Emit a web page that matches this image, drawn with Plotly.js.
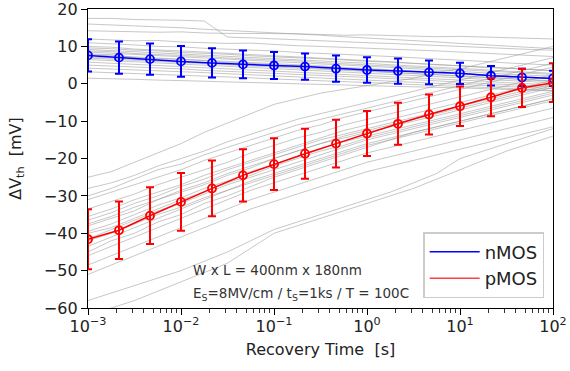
<!DOCTYPE html>
<html>
<head>
<meta charset="utf-8">
<script src="https://cdn.plot.ly/plotly-3.0.1.min.js"></script>
<style>html,body{margin:0;padding:0;background:#fff;}#chart{width:570px;height:371px;}</style>
</head>
<body>
<div id="chart"></div>
<script>
// Mean curves (third-decade sampling)
const timePts = [0.001, 0.002154, 0.004642, 0.01, 0.02154, 0.04642, 0.1, 0.2154, 0.4642, 1, 2.154, 4.642, 10, 21.54, 46.42, 100];
const nMean = [7.6, 7.0, 6.6, 6.0, 5.6, 5.2, 4.9, 4.6, 4.05, 3.7, 3.4, 3.05, 2.8, 2.15, 1.7, 1.45];
const nErr  = [4.3, 4.3, 4.2, 4.1, 3.9, 3.7, 3.6, 3.5, 3.5, 3.4, 3.4, 3.2, 2.85, 2.6, 2.3, 2.05];
const pMean = [-41.6, -39.2, -35.3, -31.6, -28.0, -24.5, -21.5, -18.7, -16.0, -13.3, -10.7, -8.2, -6.0, -3.6, -1.1, 0.3];
const pErr  = [8.0, 7.7, 7.6, 7.7, 7.45, 7.0, 6.9, 6.7, 6.4, 6.05, 5.6, 5.35, 5.3, 5.1, 5.1, 5.2];

// Individual device traces (quarter-decade sampling)
const grayTime = [0.001, 0.001778, 0.003162, 0.005623, 0.01, 0.01778, 0.03162, 0.05623, 0.1, 0.1778, 0.3162, 0.5623, 1, 1.778, 3.162, 5.623, 10, 17.78, 31.62, 56.23, 100];
const nDevices = [
  [17.5,17.5,17.2,17.2,17.0,16.8,12.5,12.3,12.0,11.8,11.5,11.2,11.0,10.8,10.5,10.3,10.0,9.8,9.5,9.2,9.0],
  [14.2,14.0,14.0,13.8,13.9,13.6,13.5,13.5,13.3,13.4,13.2,13.0,13.1,12.9,12.8,12.6,12.7,12.5,12.4,12.2,12.0],
  [12.0,11.8,11.5,11.6,11.2,11.0,10.8,10.9,10.5,10.2,10.0,9.8,9.6,9.3,9.0,8.8,8.5,8.2,7.9,7.6,7.3],
  [11.0,10.6,10.4,10.0,9.9,9.5,9.3,9.0,8.8,8.4,8.2,7.9,7.6,7.3,7.0,6.6,6.3,6.0,5.6,5.3,5.0],
  [10.0,9.8,9.3,9.1,8.8,8.5,8.1,7.9,7.5,7.2,6.9,6.6,6.2,5.9,5.5,5.2,4.8,4.5,4.1,3.8,3.5],
  [9.2,8.9,8.6,8.2,7.9,7.7,7.3,7.0,6.8,6.4,6.1,5.8,5.5,5.1,4.8,4.5,4.1,3.8,3.4,3.1,2.8],
  [8.5,8.2,7.8,7.6,7.2,6.9,6.6,6.3,6.0,5.7,5.3,5.0,4.7,4.4,4.0,3.7,3.3,3.0,2.6,2.3,2.0],
  [7.8,7.5,7.3,6.9,6.6,6.3,6.0,5.6,5.4,5.0,4.8,4.4,4.1,3.8,3.4,3.1,2.8,2.4,2.1,1.8,1.5],
  [7.2,6.9,6.5,6.3,6.0,5.6,5.4,5.0,4.7,4.4,4.1,3.8,3.5,3.1,2.8,2.5,2.1,1.8,1.5,1.1,0.8],
  [6.5,6.3,5.9,5.6,5.3,5.0,4.7,4.4,4.1,3.8,3.5,3.2,2.9,2.5,2.2,1.9,1.6,1.2,0.9,0.6,0.3],
  [5.8,5.5,5.3,4.9,4.6,4.4,4.0,3.8,3.4,3.2,2.9,2.6,2.2,2.0,1.6,1.3,1.0,0.7,0.3,0.0,-0.3],
  [5.0,4.8,4.5,4.2,4.0,3.6,3.4,3.1,2.8,2.5,2.3,1.9,1.7,1.4,1.0,0.8,0.4,0.1,-0.2,-0.5,-0.8],
  [4.2,4.0,3.7,3.5,3.2,3.0,2.7,2.4,2.2,1.9,1.6,1.4,1.1,0.8,0.5,0.2,-0.1,-0.4,-0.7,-1.0,-1.3],
  [3.2,3.0,2.8,2.5,2.3,2.1,1.8,1.6,1.3,1.1,0.8,0.6,0.3,0.1,-0.2,-0.4,-0.7,-0.9,-1.2,-1.5,-1.8],
  [1.5,1.4,1.2,1.0,0.9,0.7,0.5,0.4,0.2,0.0,-0.1,-0.3,-0.5,-0.6,-0.8,-1.0,-1.1,-1.3,-1.5,-1.7,-1.9],
  [9.6,9.4,9.0,8.8,8.4,8.2,7.9,7.5,7.3,7.0,6.7,6.4,6.0,5.8,5.4,5.1,4.8,4.4,4.2,3.8,3.5],
  [16.0,15.8,15.5,15.2,15.0,14.6,14.3,14.0,13.7,13.3,13.0,12.6,12.3,11.9,11.5,11.2,10.8,10.5,10.1,9.8,9.4],
  [8.0,7.8,7.0,6.8,6.4,6.2,5.7,5.5,5.1,4.9,4.5,4.2,3.9,3.6,3.2,2.9,2.6,2.3,1.9,1.6,1.3],
  [6.9,6.6,6.4,6.0,5.7,5.5,5.1,4.9,4.6,4.2,4.0,3.6,3.4,3.0,2.7,2.4,2.0,1.7,1.4,1.0,0.7],
  [8.8,8.6,8.1,7.9,7.5,7.3,6.9,6.7,6.3,6.1,5.7,5.4,5.1,4.8,4.4,4.1,3.8,3.4,3.1,2.8,2.5]
];
const pDevices = [
  [-25,-23.5,-21,-18.5,-16,-13,-10.5,-8,-5.5,-4,-2.5,-1.5,-0.5,0.5,1.5,3,4,5.5,7,8.5,10],
  [-28,-26.5,-24.5,-22,-20,-18,-15.5,-13.5,-11.5,-9.5,-8,-6.5,-5,-3.5,-2,-0.5,1,2.5,4,5.5,7],
  [-31,-29,-27,-25,-23,-20.5,-18.5,-16.5,-14.5,-12.5,-11,-9,-7.5,-6,-4.5,-3,-1.5,0,1.5,3,4.5],
  [-33.5,-31.5,-29.5,-27,-25,-23,-21,-18.5,-16.5,-14.5,-13,-11,-9.5,-8,-6.5,-5,-3.5,-2,-0.5,1,2.5],
  [-35.5,-33.5,-31,-29,-27,-24.5,-22.5,-20.5,-18.5,-16.5,-14.5,-12.5,-11,-9.5,-8,-6.5,-5,-3.5,-2,-0.5,1],
  [-37.5,-35.5,-33,-31,-28.5,-26.5,-24,-22,-20,-18,-16,-14,-12.5,-11,-9.5,-8,-6.5,-5,-3.5,-2,-0.5],
  [-39.5,-37.5,-35,-32.5,-30.5,-28,-26,-23.5,-21.5,-19.5,-17.5,-15.5,-14,-12.5,-11,-9.5,-8,-6.5,-5,-3.5,-2],
  [-41.5,-39,-36.5,-34,-32,-29.5,-27,-25,-23,-21,-19,-17,-15,-13.5,-12,-10.5,-9,-7.5,-6,-4.5,-3],
  [-43.5,-41,-38.5,-36,-33.5,-31,-28.5,-26.5,-24.5,-22.5,-20.5,-18.5,-16.5,-15,-13.5,-12,-10.5,-9,-7.5,-6,-4.5],
  [-46,-43.5,-41,-38.5,-36,-33.5,-31,-28.5,-26.5,-24.5,-22.5,-20.5,-18.5,-17,-15.5,-14,-12.5,-11,-9.5,-8,-6.5],
  [-48.5,-46,-43.5,-41,-38.5,-36,-33.5,-31,-29,-27,-25,-23,-21,-19.5,-18,-16.5,-15,-13.5,-12,-10.5,-9],
  [-51,-48.5,-46,-43.5,-41,-38.5,-36,-33.5,-31.5,-29.5,-27.5,-25.5,-23.5,-22,-20.5,-19,-17.5,-16,-14.5,-13,-11.5],
  [-58,-56,-54,-52,-50,-47.5,-45,-42,-39,-37,-35,-33,-31,-29,-26.5,-24,-20,-18,-16,-14,-12],
  [-62,-60,-58,-55.5,-53,-50.5,-48,-44,-40,-38,-36,-34,-32,-30,-28,-25.5,-23,-20.5,-18,-16,-14],
  [-45,-42,-40,-37,-35,-32,-30,-27.5,-25,-23,-21,-19,-17,-15,-13,-11.5,-10,-8.5,-7,-5.5,-4],
  [-38,-36,-34,-31,-29,-27,-24.5,-22.5,-20,-18,-16,-14.5,-13,-11.5,-10,-8.5,-7,-5.5,-4,-2.5,-1],
  [-30,-28,-25.5,-23,-21.5,-19,-17,-15,-13,-11,-9.5,-8,-6.5,-5,-3.5,-2,-0.5,1,2.5,4,5.5],
  [-42,-40,-37.5,-35,-33,-30.5,-28.5,-26,-24,-22,-20,-18,-16,-14.5,-13,-11.5,-10,-8.5,-7,-5.5,-4],
  [-40,-38.5,-36,-33.5,-31,-29,-26.5,-24.5,-22,-20,-18,-16.5,-14.5,-13,-11.5,-10,-8.5,-7,-5.5,-4,-2.5],
  [-36.5,-34.5,-32,-30,-27.5,-25.5,-23,-21,-19,-17,-15,-13.5,-12,-10.5,-9,-7.5,-6,-4.5,-3,-1.5,0]
];
const seriesNames = ['nMOS', 'pMOS'];
const xTickVals = [0.001, 0.01, 0.1, 1, 10, 100];
const xTickText = ['10<sup>−3</sup>', '10<sup>−2</sup>', '10<sup>−1</sup>', '10<sup>0</sup>', '10<sup>1</sup>', '10<sup>2</sup>'];
const yTickVals = [-60, -50, -40, -30, -20, -10, 0, 10, 20];
const yTickText = ['−60', '−50', '−40', '−30', '−20', '−10', '0', '10', '20'];
const annoLines = ['W x L = 400nm x 180nm', 'E<sub>S</sub>=8MV/cm / t<sub>S</sub>=1ks / T = 100C'];

// tick positions: majors carry labels, minors (2..9 per decade) are blank
const allTickVals = [];
const allTickText = [];
xTickVals.forEach(function (d, i) {
  allTickVals.push(d); allTickText.push(xTickText[i]);
  if (i < xTickVals.length - 1) {
    for (let k = 2; k <= 9; k++) { allTickVals.push(d * k); allTickText.push(''); }
  }
});

const traces = [];
const grayLine = {color: 'rgba(150,150,150,0.6)', width: 0.9};
nDevices.concat(pDevices).forEach(function (d) {
  traces.push({x: grayTime, y: d, type: 'scatter', mode: 'lines', line: grayLine, showlegend: false, hoverinfo: 'skip'});
});
function meanTrace(y, e, col) {
  return {
    x: timePts, y: y, type: 'scatter', mode: 'lines+markers', showlegend: false,
    line: {color: col, width: 1.5},
    marker: {symbol: 'circle-open', size: 8, color: col, line: {color: col, width: 1.8}},
    error_y: {type: 'data', array: e, visible: true, color: col, thickness: 2, width: 4}
  };
}
traces.push(meanTrace(nMean, nErr, '#0000ff'));
traces.push(meanTrace(pMean, pErr, '#ff0000'));
traces.push({x: [null], y: [null], type: 'scatter', mode: 'lines', name: seriesNames[0], line: {color: '#0000ff', width: 1.5}});
traces.push({x: [null], y: [null], type: 'scatter', mode: 'lines', name: seriesNames[1], line: {color: '#ff4040', width: 1.5}});
// carrier for the major-tick overlay axis
traces.push({x: [0.001, 100], y: [null, null], type: 'scatter', mode: 'lines', xaxis: 'x2', yaxis: 'y', showlegend: false, hoverinfo: 'skip'});

const fam = 'DejaVu Sans, sans-serif';
const layout = {
  width: 570, height: 371,
  margin: {l: 88, r: 17, t: 9, b: 63},
  paper_bgcolor: '#fff', plot_bgcolor: '#fff',
  font: {family: fam, size: 16, color: '#222'},
  showlegend: true,
  xaxis: {
    type: 'log', range: [-3, 2], tickmode: 'array', tickvals: allTickVals, ticktext: allTickText,
    ticks: 'outside', ticklen: 3.5, tickwidth: 0.8, tickcolor: '#000',
    showline: true, linecolor: '#000', linewidth: 1.2, mirror: true,
    showgrid: false, zeroline: false,
    tickfont: {size: 16, color: '#222'},
    title: {text: 'Recovery Time  [s]', font: {size: 16, color: '#222'}, standoff: 8}
  },
  xaxis2: {
    type: 'log', range: [-3, 2], overlaying: 'x', anchor: 'y', side: 'bottom', visible: true,
    tickmode: 'array', tickvals: xTickVals, ticks: 'outside', ticklen: 6, tickwidth: 1, tickcolor: '#000',
    showticklabels: false, showline: false, showgrid: false, zeroline: false
  },
  yaxis: {
    range: [-60, 20.02], tickmode: 'array', tickvals: yTickVals, ticktext: yTickText,
    ticklabeloverflow: 'allow',
    ticks: 'outside', ticklen: 6, tickwidth: 1, tickcolor: '#000',
    showline: true, linecolor: '#000', linewidth: 1.2, mirror: true,
    showgrid: false, zeroline: false,
    tickfont: {size: 16, color: '#222'},
    title: {text: 'ΔV<sub>th</sub>  [mV]', font: {size: 16, color: '#222'}, standoff: 18}
  },
  legend: {
    x: 0.981, xanchor: 'right', y: 0.033, yanchor: 'bottom',
    bgcolor: 'rgba(255,255,255,0.85)', bordercolor: '#cccccc', borderwidth: 1.5,
    font: {size: 18, color: '#222'}, itemwidth: 50
  },
  annotations: [
    {xref: 'paper', yref: 'paper', x: 0.222, y: 0.127, xanchor: 'left', yanchor: 'middle', showarrow: false,
     text: annoLines[0], font: {size: 13.5, color: '#333'}},
    {xref: 'paper', yref: 'paper', x: 0.222, y: 0.047, xanchor: 'left', yanchor: 'middle', showarrow: false,
     text: annoLines[1], font: {size: 13.5, color: '#333'}}
  ]
};
Plotly.newPlot('chart', traces, layout, {displayModeBar: false, staticPlot: true});
</script>
</body>
</html>
